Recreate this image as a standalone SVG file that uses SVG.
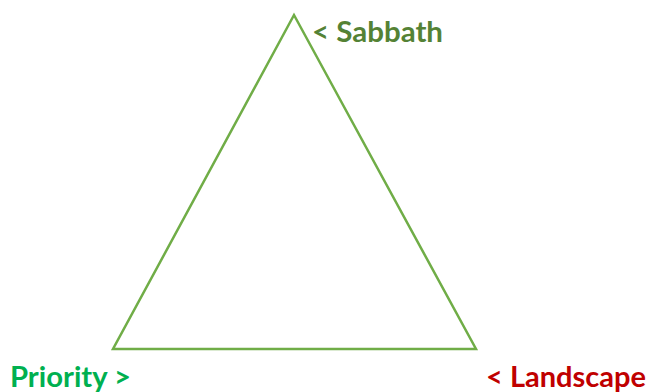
<svg xmlns="http://www.w3.org/2000/svg" width="650" height="392" viewBox="0 0 650 392">
<style>
.lbl{font-family:"Lato","Open Sans","Liberation Sans",sans-serif;font-weight:bold;font-size:28px}
</style>
<rect width="650" height="392" fill="#ffffff"/>
<g id="triangle">
<polygon points="294,15 113,349 476,349" fill="none" stroke="#70AD47" stroke-width="2.5" stroke-linejoin="miter"/>
</g>
<g id="sabbath"><text class="lbl" x="312" y="42" fill="#548235" textLength="131" lengthAdjust="spacingAndGlyphs">&lt; Sabbath</text></g>
<g id="priority"><text class="lbl" x="10" y="387" fill="#00B050" textLength="121" lengthAdjust="spacingAndGlyphs">Priority &gt;</text></g>
<g id="landscape"><text class="lbl" x="486" y="387" fill="#C00000" textLength="160" lengthAdjust="spacingAndGlyphs">&lt; Landscape</text></g>
</svg>
